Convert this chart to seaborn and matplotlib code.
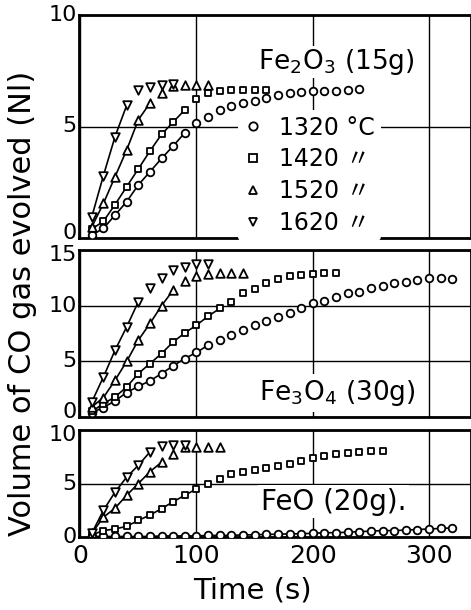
import matplotlib
matplotlib.use("Agg")
import matplotlib.pyplot as plt
import matplotlib.transforms as mtransforms
import seaborn as sns
from matplotlib.lines import Line2D

sns.set_style("white")
plt.rcParams["font.family"] = ["DejaVu Sans", "Noto Sans CJK JP"]
plt.rcParams["text.color"] = "black"
plt.rcParams["axes.labelcolor"] = "black"
plt.rcParams["xtick.color"] = "black"
plt.rcParams["ytick.color"] = "black"

# ---- data ----
TIME = [10, 20, 30, 40, 50, 60, 70, 80, 90, 100, 110, 120, 130, 140, 150, 160,
        170, 180, 190, 200, 210, 220, 230, 240, 250, 260, 270, 280, 290, 300, 310, 320]
temps = ["1320", "1420", "1520", "1620"]

fe2o3_1320 = [0.13, 0.43, 1.03, 1.63, 2.38, 2.97, 3.57, 4.13, 4.72, 5.14, 5.44, 5.72,
              5.93, 6.04, 6.15, 6.3, 6.4, 6.49, 6.56, 6.59, 6.61, 6.61, 6.64, 6.67]
fe2o3_1420 = [0.4, 0.75, 1.5, 2.3, 3.1, 3.9, 4.65, 5.2, 5.75, 6.25, 6.5, 6.6, 6.65,
              6.65, 6.65, 6.65]
fe2o3_1520 = [0.5, 1.55, 2.75, 3.95, 5.3, 6.05, 6.5, 6.8, 6.85, 6.85, 6.85]
fe2o3_1620 = [0.95, 2.8, 4.55, 5.95, 6.65, 6.75, 6.85, 6.9]

fe3o4_1320 = [0.4, 0.85, 1.45, 2.2, 2.75, 3.25, 3.9, 4.6, 5.25, 5.8, 6.45, 6.9, 7.4,
              7.85, 8.25, 8.65, 9.0, 9.37, 9.77, 10.2, 10.45, 10.75, 11.1, 11.26, 11.56,
              11.77, 12.0, 12.16, 12.3, 12.46, 12.46, 12.37]
fe3o4_1420 = [0.5, 1.2, 1.8, 2.7, 3.9, 4.8, 5.7, 6.75, 7.55, 8.25, 9.05, 9.75, 10.35,
              11.1, 11.5, 12.0, 12.4, 12.65, 12.75, 12.85, 12.9, 12.95]
fe3o4_1520 = [0.9, 1.75, 3.3, 5.0, 6.9, 8.4, 10.0, 11.4, 12.2, 12.7, 12.8, 12.9, 12.9, 12.9]
fe3o4_1620 = [1.35, 3.6, 6.0, 8.1, 10.35, 11.55, 12.45, 13.2, 13.5, 13.75, 13.75]

feo_1320 = [0.05, 0.05, 0.05, 0.05, 0.05, 0.05, 0.1, 0.1, 0.1, 0.1, 0.15, 0.15, 0.15,
            0.2, 0.2, 0.25, 0.25, 0.3, 0.3, 0.35, 0.4, 0.4, 0.45, 0.5, 0.55, 0.6, 0.6,
            0.65, 0.7, 0.75, 0.8, 0.85]
feo_1420 = [0.2, 0.6, 0.75, 1.0, 1.55, 2.05, 2.65, 3.3, 3.9, 4.5, 5.0, 5.4, 5.9, 6.1,
            6.3, 6.45, 6.6, 6.85, 7.1, 7.35, 7.6, 7.75, 7.85, 7.95, 8.05, 8.05]
feo_1520 = [0.35, 1.85, 2.7, 3.9, 5.0, 6.1, 7.0, 7.8, 8.4, 8.45, 8.45, 8.45]
feo_1620 = [0.35, 2.5, 4.2, 5.6, 6.7, 7.95, 8.55, 8.6, 8.6]

# number of leading points joined by the drawn curve
fe2o3_line = [9, 9, 6, 4]
fe3o4_line = [11, 12, 8, 5]
feo_line = [32, 10, 7, 6]

panel_labels = [r"Fe$_2$O$_3$ (15g)", r"Fe$_3$O$_4$ (30g)", "FeO (20g)."]
panels = [
    ([fe2o3_1320, fe2o3_1420, fe2o3_1520, fe2o3_1620], fe2o3_line, 10, [0, 5, 10]),
    ([fe3o4_1320, fe3o4_1420, fe3o4_1520, fe3o4_1620], fe3o4_line, 15, [0, 5, 10, 15]),
    ([feo_1320, feo_1420, feo_1520, feo_1620], feo_line, 10, [0, 5, 10]),
]
markers = ["o", "s", "^", "v"]
msizes = [30, 24, 38, 38]

W, H = 471, 610
fig = plt.figure(figsize=(W / 100, H / 100), dpi=100)
left_px, right_px = 79, 471
boxes = [(15, 238), (250, 417), (430, 537)]
axes = []
for (top, bot) in boxes:
    ax = fig.add_axes([left_px / W, 1 - bot / H, (right_px - left_px) / W, (bot - top) / H])
    axes.append(ax)

for i, (ax, (series, nline, ymax, yticks)) in enumerate(zip(axes, panels)):
    for vals, n, m, s in zip(series, nline, markers, msizes):
        t = TIME[:len(vals)]
        sns.lineplot(x=t[:n], y=vals[:n], ax=ax, color="black", lw=1.2,
                     estimator=None, sort=False, zorder=3)
        sns.scatterplot(x=t, y=vals, ax=ax, marker=m, s=s, facecolor="white",
                        edgecolor="black", linewidth=1.3, zorder=4)
    ax.set_xlim(-1, 336)
    ax.set_ylim(0, ymax)
    ax.set_yticks(yticks)
    ax.set_yticklabels([])
    ax.set_xticks([0, 100, 200, 300])
    ax.grid(True, color="black", lw=1.0)
    ax.set_axisbelow(True)
    for sp in ax.spines.values():
        sp.set_linewidth(2.0)
        sp.set_color("black")
    ax.tick_params(axis="y", length=0)
    ax.tick_params(axis="x", length=0, pad=5, labelsize=18)
    ax.set_xlabel("")
    ax.set_ylabel("")
    # y tick labels: end labels nudged so neighbouring panels' labels do not collide
    base = mtransforms.blended_transform_factory(ax.transAxes, ax.transData)
    for j, v in enumerate(yticks):
        dy = 0
        if j == 0 and i < 2:
            dy = 5
        if j == len(yticks) - 1 and i > 0:
            dy = -5
        tr = base + mtransforms.ScaledTranslation(-2 / 100, dy / 100, fig.dpi_scale_trans)
        ax.text(0, v, str(v), transform=tr, ha="right", va="center", fontsize=16)

axes[0].tick_params(labelbottom=False)
axes[1].tick_params(labelbottom=False)

# panel labels
axes[0].text(0.656, 0.79, panel_labels[0], transform=axes[0].transAxes,
             ha="center", va="center", fontsize=19, zorder=2,
             bbox=dict(facecolor="white", edgecolor="none", pad=1))
axes[1].text(0.66, 0.145, panel_labels[1], transform=axes[1].transAxes,
             ha="center", va="center", fontsize=19, zorder=2,
             bbox=dict(facecolor="white", edgecolor="none", pad=3))
axes[2].text(0.65, 0.33, panel_labels[2], transform=axes[2].transAxes,
             ha="center", va="center", fontsize=20, zorder=2,
             bbox=dict(facecolor="white", edgecolor="none", pad=2))

# legend
handles = [Line2D([], [], ls="none", marker=m, ms=6, mfc="white", mec="black", mew=1.3)
           for m in markers]
labels = [temps[0] + " °C"] + [tt + " 〃" for tt in temps[1:]]
leg = axes[0].legend(handles, labels, loc="upper left", bbox_to_anchor=(0.405, 0.575),
                     fontsize=17, frameon=True, framealpha=1, edgecolor="none",
                     facecolor="white", handlelength=0.8, handletextpad=0.7,
                     labelspacing=0.33, borderpad=0.25, borderaxespad=0)
leg.set_zorder(5)

fig.text(252 / W, 1 - 590 / H, "Time (s)", ha="center", va="center", fontsize=21)
fig.text(23 / W, 1 - 303 / H, "Volume of CO gas evolved (Nl)", rotation=90,
         ha="center", va="center", fontsize=22)

fig.savefig("out.png", dpi=100)
